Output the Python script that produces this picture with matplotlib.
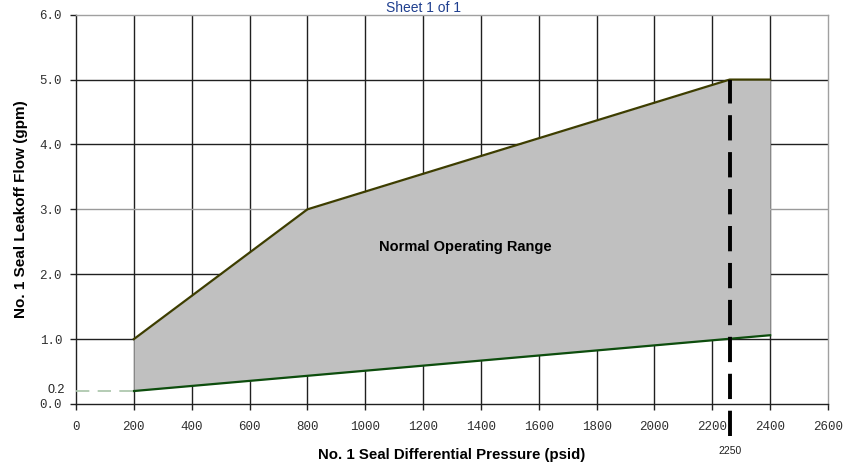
import matplotlib
matplotlib.use("Agg")
import matplotlib.pyplot as plt
import numpy as np

# Data
upper_x = [200, 800, 2260, 2400]
upper_y = [1.0, 3.0, 5.0, 5.0]
lower_x = [200, 2400]
lower_y = [0.2, 1.06]
min_flow = 0.2
limit_pressure = 2260
limit_label = "2250"
x_ticks = list(range(0, 2601, 200))
y_ticks = [0, 1, 2, 3, 4, 5, 6]

fig = plt.figure(figsize=(8.52, 4.63), dpi=100)
ax = fig.add_axes([76/852, 1-404/463, (828-76)/852, (404-14.7)/463])

ax.set_xlim(0, 2600)
ax.set_ylim(0, 6)

# grid
grid_c = "#202020"
for xv in x_ticks[1:-1]:
    ax.axvline(xv, color=grid_c, lw=1.0, zorder=1)
for yv in y_ticks[1:-1]:
    ax.axhline(yv, color="#9a9a9a" if yv == 3 else grid_c, lw=1.0, zorder=1)

# fill region
xs = np.array(sorted(set(upper_x + lower_x)))
up = np.interp(xs, upper_x, upper_y)
lo = np.interp(xs, lower_x, lower_y)
ax.fill_between(xs, lo, up, color="#c0c0c0", lw=0, zorder=2)
ax.plot(upper_x, upper_y, color="#3d3d00", lw=1.6, zorder=3)
ax.plot(lower_x, lower_y, color="#0d4d0d", lw=1.6, zorder=3)

# dashed min flow line
ax.plot([0, lower_x[0]], [min_flow, min_flow], color="#a8c4a8", lw=1.2,
        dashes=(8, 5), zorder=3)

# 2250 limit line
ax.plot([limit_pressure, limit_pressure], [-0.5, 5.0], color="black", lw=2.8,
        dashes=(6.5, 3), clip_on=False, zorder=5)
ax.text(limit_pressure, -0.72, limit_label, ha="center", va="center",
        fontsize=7.5, family=["Liberation Sans"], color="#202020")

ax.text(-40, min_flow + 0.02, "0.2", ha="right", va="center",
        fontsize=9, family=["Liberation Sans"], color="#202020", clip_on=False)

ax.text(1345, 2.42, "Normal Operating Range", ha="center", va="center",
        fontsize=10.5, fontweight="bold", family=["Liberation Sans"], zorder=6)

# spines
for s in ["top", "right"]:
    ax.spines[s].set_color("#a0a0a0")
    ax.spines[s].set_linewidth(1.0)
for s in ["left", "bottom"]:
    ax.spines[s].set_color("#202020")
    ax.spines[s].set_linewidth(1.0)

ax.set_xticks(x_ticks)
ax.set_xticklabels([str(v) for v in x_ticks])
ax.set_yticks(y_ticks)
ax.set_yticklabels(["%.1f" % v for v in y_ticks])
ax.tick_params(axis="both", direction="out", length=4, width=1.0, color="#202020",
               labelsize=9, labelcolor="#303030")
for lab in ax.get_xticklabels() + ax.get_yticklabels():
    lab.set_family("Liberation Mono")
ax.tick_params(axis="x", pad=8)
ax.tick_params(axis="y", pad=6)

ax.set_xlabel("No. 1 Seal Differential Pressure (psid)", fontsize=10.8,
              fontweight="bold", family=["Liberation Sans"], labelpad=11)
ax.set_ylabel("No. 1 Seal Leakoff Flow (gpm)", fontsize=11, fontweight="bold",
              family=["Liberation Sans"], labelpad=8)

fig.text(423/852, 1-12/463, "Sheet 1 of 1", ha="center", va="baseline",
         fontsize=10, color="#1f3f8f", family=["Liberation Sans"])

fig.savefig("out.png", dpi=100)
